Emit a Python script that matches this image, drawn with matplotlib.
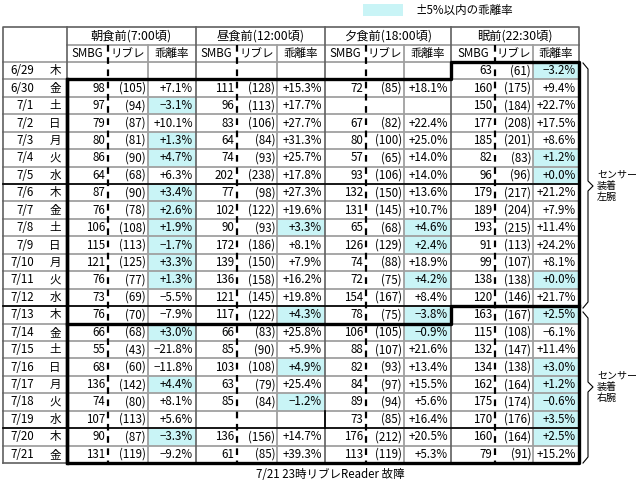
import matplotlib
matplotlib.use("Agg")
import matplotlib.pyplot as plt
from matplotlib.patches import Rectangle

plt.rcParams['font.family'] = ['Noto Sans CJK JP', 'DejaVu Sans']

dates = ["6/29", "6/30", "7/1", "7/2", "7/3", "7/4", "7/5", "7/6", "7/7", "7/8", "7/9", "7/10",
         "7/11", "7/12", "7/13", "7/14", "7/15", "7/16", "7/17", "7/18", "7/19", "7/20", "7/21"]
weekdays = ["木", "金", "土", "日", "月", "火", "水", "木", "金", "土", "日", "月",
            "火", "水", "木", "金", "土", "日", "月", "火", "水", "木", "金"]
meals = ["朝食前(7:00頃)", "昼食前(12:00頃)", "夕食前(18:00頃)", "眠前(22:30頃)"]
sub_headers = ["SMBG", "リブレ", "乖離率"]

N = None
bf_smbg = [N, 98, 97, 79, 80, 86, 64, 87, 76, 106, 115, 121, 76, 73, 76, 66, 55, 68, 136, 74, 107, 90, 131]
bf_libre = [N, 105, 94, 87, 81, 90, 68, 90, 78, 108, 113, 125, 77, 69, 70, 68, 43, 60, 142, 80, 113, 87, 119]
bf_rate = [N, 7.1, -3.1, 10.1, 1.3, 4.7, 6.3, 3.4, 2.6, 1.9, -1.7, 3.3, 1.3, -5.5, -7.9, 3.0, -21.8, -11.8,
           4.4, 8.1, 5.6, -3.3, -9.2]
lu_smbg = [N, 111, 96, 83, 64, 74, 202, 77, 102, 90, 172, 139, 136, 121, 117, 66, 85, 103, 63, 85, N, 136, 61]
lu_libre = [N, 128, 113, 106, 84, 93, 238, 98, 122, 93, 186, 150, 158, 145, 122, 83, 90, 108, 79, 84, N, 156, 85]
lu_rate = [N, 15.3, 17.7, 27.7, 31.3, 25.7, 17.8, 27.3, 19.6, 3.3, 8.1, 7.9, 16.2, 19.8, 4.3, 25.8, 5.9, 4.9,
           25.4, -1.2, N, 14.7, 39.3]
di_smbg = [N, 72, N, 67, 80, 57, 93, 132, 131, 65, 126, 74, 72, 154, 78, 106, 88, 82, 84, 89, 73, 176, 113]
di_libre = [N, 85, N, 82, 100, 65, 106, 150, 145, 68, 129, 88, 75, 167, 75, 105, 107, 93, 97, 94, 85, 212, 119]
di_rate = [N, 18.1, N, 22.4, 25.0, 14.0, 14.0, 13.6, 10.7, 4.6, 2.4, 18.9, 4.2, 8.4, -3.8, -0.9, 21.6, 13.4,
           15.5, 5.6, 16.4, 20.5, 5.3]
be_smbg = [63, 160, 150, 177, 185, 82, 96, 179, 189, 193, 91, 99, 138, 120, 163, 115, 132, 134, 162, 175, 170, 160, 79]
be_libre = [61, 175, 184, 208, 201, 83, 96, 217, 204, 215, 113, 107, 138, 146, 167, 108, 147, 138, 164, 174, 176, 164, 91]
be_rate = [-3.2, 9.4, 22.7, 17.5, 8.6, 1.2, 0.0, 21.2, 7.9, 11.4, 24.2, 8.1, 0.0, 21.7, 2.5, -6.1, 11.4, 3.0,
           1.2, -0.6, 3.5, 2.5, 15.2]

groups = [(bf_smbg, bf_libre, bf_rate), (lu_smbg, lu_libre, lu_rate),
          (di_smbg, di_libre, di_rate), (be_smbg, be_libre, be_rate)]

fig = plt.figure(figsize=(6.4, 4.84), dpi=100)
ax = fig.add_axes([0, 0, 1, 1])
ax.set_xlim(0, 640)
ax.set_ylim(484, 0)
ax.axis("off")

HL = "#c9f4f6"
GRID = "#a0a0a0"
fs = 8.3
# column edges: each group = smbg | libre | rate
gx = [(67, 108, 148, 196), (196, 237, 277, 325), (325, 366, 404, 451), (451, 495, 533, 579)]
left = 3
top, h1, h2 = 27, 45, 62
rh = (463 - 62) / 23
ys = [h2 + i * rh for i in range(24)]
right = 579

# highlight cells
for g, (s, l, r) in zip(gx, groups):
    for i, v in enumerate(r):
        if v is not None and abs(v) < 5:
            ax.add_patch(Rectangle((g[2], ys[i]), g[3] - g[2], rh, color=HL, lw=0, zorder=0))

# light grid
for y in ys[1:-1]:
    ax.plot([left, right], [y, y], color=GRID, lw=1.3, zorder=1)
ax.plot([67, right], [h1, h1], color=GRID, lw=1.3, zorder=1)
ax.plot([left, right], [h2, h2], color=GRID, lw=1.3, zorder=1)
for g in gx:
    ax.plot([g[2], g[2]], [h1, ys[-1]], color=GRID, lw=1.3, zorder=1)
    ax.plot([g[1], g[1]], [h1, ys[-1]], color="black", lw=1.6, ls=(0, (3, 2.5)), zorder=2)
for x in [67, 196, 325, 451]:
    ax.plot([x, x], [top, ys[-1]], color="#606060", lw=1.2, zorder=1)
ax.plot([left, left, right, right], [ys[-1], top, top, ys[0]], color="#606060", lw=1.2, zorder=1)
ax.plot([left, 67], [ys[-1], ys[-1]], color="#606060", lw=1.2, zorder=1)

# week separators
for k in [7, 14, 21]:
    ax.plot([left, right], [ys[k], ys[k]], color="black", lw=1.2, zorder=3)
ax.plot([325, 325], [ys[20], ys[21]], color="black", lw=1.2, zorder=3)

# sensor period boxes
bk = dict(color="black", lw=2.4, zorder=4, solid_capstyle="projecting")
ax.plot([67, 67, 451, 451, right, right, 67, 67],
        [ys[-1], ys[1], ys[1], ys[0], ys[0], ys[-1], ys[-1], ys[1]], **bk)
ax.plot([67, 451, 451, right], [ys[15], ys[15], ys[14], ys[14]], **bk)

# headers
for g, m in zip(gx, meals):
    ax.text((g[0] + g[3]) / 2, (top + h1) / 2, m, ha="center", va="center", fontsize=fs + 0.5)
    for a, b, t in zip(g[:-1], g[1:], sub_headers):
        ax.text((a + b) / 2, (h1 + h2) / 2, t, ha="center", va="center", fontsize=fs)

# body
for i in range(23):
    yc = ys[i] + rh / 2
    ax.text(34, yc, dates[i], ha="right", va="center", fontsize=fs)
    ax.text(55, yc, weekdays[i], ha="center", va="center", fontsize=fs)
    for g, (s, l, r) in zip(gx, groups):
        if s[i] is not None:
            ax.text(g[1] - 3, yc, str(s[i]), ha="right", va="center", fontsize=fs)
            ax.text(g[2] - 2, yc, f"({l[i]})", ha="right", va="center", fontsize=fs)
            ax.text(g[3] - 3, yc, f"{r[i]:+.1f}%".replace("-", "−"), ha="right", va="center", fontsize=fs)

# legend
ax.add_patch(Rectangle((363, 4), 40, 12, color=HL, lw=0))
ax.text(415, 10, "±5%以内の乖離率", ha="left", va="center", fontsize=fs)

# braces
def brace(y0, y1, ym):
    x0, x1, x2 = 583, 588, 593
    ax.plot([x0, x1, x1, x2, x1, x1, x0], [y0, y0 + 6, ym - 5, ym, ym + 5, y1 - 6, y1],
            color="black", lw=0.8)

brace(63, 308, 186)
ax.text(597, 186, "センサー\n装着\n左腕", ha="left", va="center", fontsize=7.2, linespacing=1.15)
brace(312, 463, 387)
ax.text(597, 387, "センサー\n装着\n右腕", ha="left", va="center", fontsize=7.2, linespacing=1.15)

ax.text(330, 475, "7/21 23時リブレReader 故障", ha="center", va="center", fontsize=fs)

fig.savefig("out.png", dpi=100)
